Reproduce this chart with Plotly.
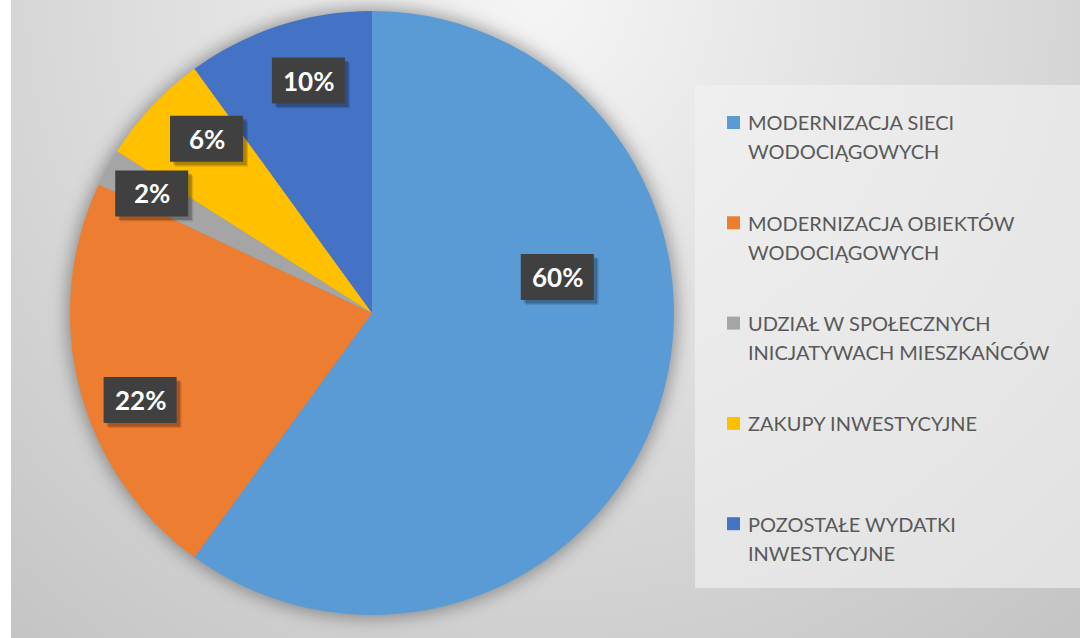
import math
import base64
import plotly.graph_objects as go

# ---------------- data ----------------
categories = [
    "MODERNIZACJA SIECI<br>WODOCIĄGOWYCH",
    "MODERNIZACJA OBIEKTÓW<br>WODOCIĄGOWYCH",
    "UDZIAŁ W SPOŁECZNYCH<br>INICJATYWACH MIESZKAŃCÓW",
    "ZAKUPY INWESTYCYJNE",
    "POZOSTAŁE WYDATKI<br>INWESTYCYJNE",
]
values = [60, 22, 2, 6, 10]
colors = ["#5B9BD5", "#ED7D31", "#A5A5A5", "#FFC000", "#4472C4"]

# ---------------- layout / style constants ----------------
W, H = 1080, 638
CX, CY, R = 372, 313, 302          # pie centre / radius in px
LEFT_STRIP = 11
# label placement (fraction of radius, angular nudge from slice middle, degrees)
LABEL_RFRAC = [0.625, 0.82, 0.83, 0.796, 0.798]
LABEL_SHIFT = [-29.0, -6.15, -0.3, 3.3, 2.7]
BOX_W, BOX_H = 73, 46

LEG_X_SQ0, LEG_X_SQ1 = 727, 740
LEG_X_TEXT = 746
LEG_Y0, LEG_STEP, LEG_LINE = 122.5, 100.3, 29.0
LEG_BOX = (695, 85, W, 588)

def px(x):
    return x / W

def py(y):
    return 1 - y / H

fig = go.Figure()

fig.add_trace(go.Pie(
    labels=categories,
    values=values,
    marker=dict(colors=colors, line=dict(width=0)),
    sort=False,
    direction="clockwise",
    rotation=0,
    textinfo="none",
    hoverinfo="skip",
    showlegend=False,
    domain=dict(x=[px(CX - R), px(CX + R)], y=[py(CY + R), py(CY - R)]),
))

# ---------------- background image (radial gradient + pie shadow) ----------------
bw = W - LEFT_STRIP
svg = f'''<svg xmlns="http://www.w3.org/2000/svg" width="{bw}" height="{H}" viewBox="0 0 {bw} {H}">
<defs>
<radialGradient id="g" cx="{540 - LEFT_STRIP}" cy="0" r="900" gradientUnits="userSpaceOnUse">
<stop offset="0" stop-color="#f5f5f5"/><stop offset="1" stop-color="#c0c0c0"/>
</radialGradient>
<filter id="b" x="-30%" y="-30%" width="160%" height="160%"><feGaussianBlur stdDeviation="9"/></filter>
</defs>
<rect x="0" y="0" width="{bw}" height="{H}" fill="url(#g)"/>
<circle cx="{CX - LEFT_STRIP}" cy="{CY}" r="{R + 2}" fill="#000" fill-opacity="0.38" filter="url(#b)"/>
</svg>'''
uri = "data:image/svg+xml;base64," + base64.b64encode(svg.encode()).decode()

fig.add_layout_image(dict(
    source=uri, xref="paper", yref="paper",
    x=px(LEFT_STRIP), y=1, sizex=1 - px(LEFT_STRIP), sizey=1,
    xanchor="left", yanchor="top", sizing="stretch", layer="below",
))

# legend box
fig.add_shape(type="rect", xref="paper", yref="paper",
              x0=px(LEG_BOX[0]), x1=px(LEG_BOX[2]), y0=py(LEG_BOX[3]), y1=py(LEG_BOX[1]),
              fillcolor="rgba(242,242,242,0.62)", line=dict(width=0), layer="above")

annotations = []

# ---------------- data labels ----------------
total = sum(values)
cum = 0
for i, v in enumerate(values):
    start = cum / total * 360
    cum += v
    end = cum / total * 360
    mid = (start + end) / 2 + LABEL_SHIFT[i]
    r = LABEL_RFRAC[i] * R
    lx = CX + r * math.sin(math.radians(mid))
    ly = CY - r * math.cos(math.radians(mid))
    # shadow (soft, two layers) and dark box
    for off, alpha in ((5, 0.12), (3.5, 0.22)):
        fig.add_shape(type="rect", xref="paper", yref="paper",
                      x0=px(lx - BOX_W / 2 + off), x1=px(lx + BOX_W / 2 + off),
                      y0=py(ly + BOX_H / 2 + off), y1=py(ly - BOX_H / 2 + off),
                      fillcolor=f"rgba(0,0,0,{alpha})", line=dict(width=0), layer="above")
    fig.add_shape(type="rect", xref="paper", yref="paper",
                  x0=px(lx - BOX_W / 2), x1=px(lx + BOX_W / 2),
                  y0=py(ly + BOX_H / 2), y1=py(ly - BOX_H / 2),
                  fillcolor="#404040", line=dict(width=0), layer="above")
    annotations.append(dict(
        text=f"<b>{round(v / total * 100)}%</b>", xref="paper", yref="paper",
        x=px(lx), y=py(ly), xanchor="center", yanchor="middle", showarrow=False,
        font=dict(family="Lato, 'Open Sans', sans-serif", size=26, color="white"),
    ))

# ---------------- legend (manual) ----------------
for i, (lab, col) in enumerate(zip(categories, colors)):
    yc = LEG_Y0 + i * LEG_STEP
    fig.add_shape(type="rect", xref="paper", yref="paper",
                  x0=px(LEG_X_SQ0), x1=px(LEG_X_SQ1), y0=py(yc + 6.5), y1=py(yc - 6.5),
                  fillcolor=col, line=dict(width=0), layer="above")
    for j, line in enumerate(lab.split("<br>")):
        annotations.append(dict(
            text=line, xref="paper", yref="paper",
            x=px(LEG_X_TEXT), y=py(yc + j * LEG_LINE), xanchor="left", yanchor="middle",
            showarrow=False, font=dict(family="Lato, 'Open Sans', sans-serif", size=20, color="#595959"),
        ))

fig.update_layout(
    width=W, height=H,
    margin=dict(l=0, r=0, t=0, b=0),
    paper_bgcolor="white",
    plot_bgcolor="white",
    annotations=annotations,
    showlegend=False,
)

fig.write_html("out.html", config={"displayModeBar": False},
               post_script="document.body.style.margin='0';document.body.style.overflow='hidden';")
